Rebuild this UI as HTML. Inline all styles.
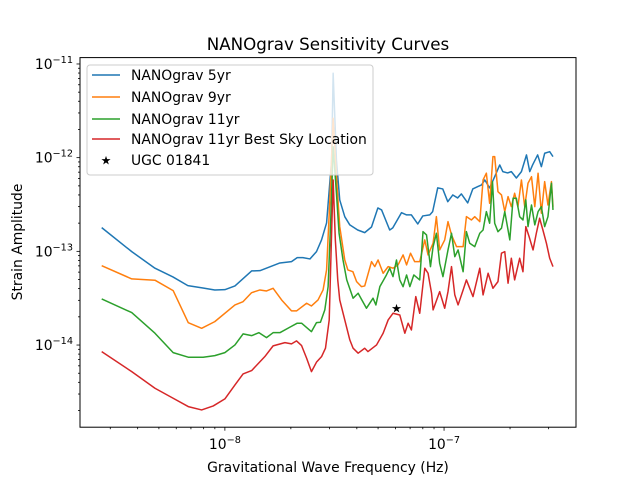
<!DOCTYPE html>
<html><head><meta charset="utf-8"><style>
html,body{margin:0;padding:0;background:#fff;}
svg{display:block;font-family:"DejaVu Sans","Liberation Sans",sans-serif;}
</style></head><body>
<svg id="chart" width="640" height="480" viewBox="0 0 640 480" xmlns="http://www.w3.org/2000/svg">
<rect width="640" height="480" fill="#fff"/>
<defs><clipPath id="clip"><rect x="80" y="57.6" width="496" height="369.6"/></clipPath></defs>
<text x="328" y="50" font-size="16.7" text-anchor="middle">NANOgrav Sensitivity Curves</text>
<text x="328" y="472" font-size="13.9" text-anchor="middle">Gravitational Wave Frequency (Hz)</text>
<text x="0" y="0" font-size="13.9" text-anchor="middle" transform="translate(22,242) rotate(-90)">Strain Amplitude</text>
<g id="ticks"></g>
<g id="series" clip-path="url(#clip)"></g>
<rect x="80" y="57.6" width="496" height="369.6" fill="none" stroke="#000" stroke-width="1"/>
<g id="legend">
<rect x="87" y="65" width="286" height="110" rx="3" fill="#fff" fill-opacity="0.8" stroke="#ccc" stroke-width="1"/>
<line x1="92" y1="75" x2="120" y2="75" stroke="#1f77b4" stroke-width="1.5"/>
<text x="131" y="80" font-size="13.9">NANOgrav 5yr</text>
<line x1="92" y1="97" x2="120" y2="97" stroke="#ff7f0e" stroke-width="1.5"/>
<text x="131" y="102" font-size="13.9">NANOgrav 9yr</text>
<line x1="92" y1="119" x2="120" y2="119" stroke="#2ca02c" stroke-width="1.5"/>
<text x="131" y="124" font-size="13.9">NANOgrav 11yr</text>
<line x1="92" y1="139" x2="120" y2="139" stroke="#d62728" stroke-width="1.5"/>
<text x="131" y="144" font-size="13.9">NANOgrav 11yr Best Sky Location</text>
<text x="106" y="164.5" font-size="12" text-anchor="middle">★</text>
<text x="131" y="165" font-size="13.9">UGC 01841</text>
</g>
</svg>
<script>
// log10 frequency (Hz) and log10 strain amplitude
const f5 = [-8.562,-8.425,-8.319,-8.237,-8.169,-8.100,-8.046,-8.000,-7.954,-7.878,-7.840,-7.749,-7.696,-7.670,-7.644,-7.612,-7.582,-7.559,-7.536,-7.513,-7.506,-7.491,-7.476,-7.453,-7.430,-7.394,-7.362,-7.331,-7.302,-7.285,-7.248,-7.234,-7.194,-7.171,-7.149,-7.120,-7.097,-7.065,-7.052,-7.029,-7.006,-6.983,-6.960,-6.938,-6.921,-6.892,-6.869,-6.846,-6.829,-6.814,-6.792,-6.769,-6.746,-6.732,-6.710,-6.693,-6.670,-6.647,-6.624,-6.609,-6.596,-6.573,-6.556,-6.541,-6.518,-6.503];
const h5 = [-12.747,-13.003,-13.180,-13.273,-13.366,-13.391,-13.412,-13.409,-13.369,-13.209,-13.206,-13.124,-13.110,-13.067,-13.067,-13.081,-13.003,-12.878,-12.697,-12.025,-11.099,-12.025,-12.451,-12.630,-12.718,-12.772,-12.800,-12.740,-12.537,-12.558,-12.772,-12.750,-12.587,-12.611,-12.611,-12.708,-12.622,-12.611,-12.576,-12.323,-12.334,-12.470,-12.398,-12.430,-12.387,-12.483,-12.334,-12.309,-12.291,-12.238,-12.323,-12.203,-12.078,-12.149,-12.163,-12.149,-12.217,-12.149,-11.971,-12.149,-12.078,-11.971,-12.096,-11.953,-11.936,-11.989];
const f9 = [-8.562,-8.425,-8.319,-8.236,-8.167,-8.106,-8.046,-7.954,-7.917,-7.878,-7.840,-7.810,-7.780,-7.741,-7.696,-7.673,-7.627,-7.605,-7.575,-7.552,-7.536,-7.521,-7.506,-7.491,-7.476,-7.453,-7.439,-7.416,-7.399,-7.377,-7.362,-7.331,-7.316,-7.301,-7.278,-7.255,-7.233,-7.210,-7.187,-7.171,-7.153,-7.134,-7.111,-7.088,-7.073,-7.050,-7.035,-7.020,-6.997,-6.982,-6.966,-6.943,-6.913,-6.898,-6.875,-6.860,-6.837,-6.822,-6.807,-6.792,-6.777,-6.769,-6.754,-6.738,-6.723,-6.708,-6.693,-6.678,-6.663,-6.647,-6.632,-6.617,-6.601,-6.586,-6.571,-6.556,-6.541,-6.526,-6.510,-6.503];
const h9 = [-13.153,-13.294,-13.308,-13.419,-13.761,-13.821,-13.750,-13.572,-13.537,-13.441,-13.412,-13.423,-13.394,-13.519,-13.636,-13.636,-13.554,-13.583,-13.519,-13.412,-13.198,-12.451,-11.579,-12.203,-12.736,-13.092,-13.198,-13.217,-13.323,-13.377,-13.369,-13.110,-13.163,-13.092,-13.234,-13.163,-13.180,-13.145,-13.038,-13.145,-13.020,-13.110,-13.110,-12.878,-13.038,-12.913,-12.630,-12.985,-12.878,-12.683,-12.825,-12.950,-12.950,-12.630,-12.665,-12.630,-12.683,-12.238,-12.166,-12.487,-11.989,-11.989,-12.363,-12.398,-12.576,-12.416,-12.523,-12.380,-12.523,-12.238,-12.523,-12.273,-12.203,-12.523,-12.166,-12.593,-12.256,-12.505,-12.256,-12.523];
const f11 = [-8.562,-8.425,-8.319,-8.236,-8.167,-8.099,-8.046,-8.000,-7.954,-7.917,-7.878,-7.845,-7.810,-7.780,-7.749,-7.704,-7.670,-7.650,-7.605,-7.582,-7.564,-7.544,-7.529,-7.517,-7.506,-7.491,-7.479,-7.461,-7.444,-7.425,-7.415,-7.392,-7.375,-7.354,-7.324,-7.311,-7.293,-7.263,-7.248,-7.233,-7.217,-7.202,-7.187,-7.171,-7.156,-7.138,-7.111,-7.096,-7.080,-7.062,-7.050,-7.035,-7.020,-7.005,-6.982,-6.966,-6.951,-6.936,-6.913,-6.898,-6.883,-6.860,-6.837,-6.822,-6.807,-6.792,-6.779,-6.769,-6.754,-6.738,-6.723,-6.700,-6.685,-6.670,-6.655,-6.640,-6.627,-6.617,-6.601,-6.586,-6.571,-6.556,-6.541,-6.526,-6.510,-6.503];
const h11 = [-13.508,-13.654,-13.874,-14.081,-14.130,-14.130,-14.113,-14.081,-13.999,-13.881,-13.900,-13.868,-13.921,-13.868,-13.868,-13.810,-13.767,-13.767,-13.857,-13.761,-13.757,-13.625,-13.377,-12.665,-11.883,-12.380,-12.807,-13.092,-13.305,-13.433,-13.500,-13.447,-13.519,-13.607,-13.500,-13.572,-13.377,-13.252,-13.180,-13.270,-13.092,-13.305,-13.377,-13.252,-13.377,-13.252,-13.305,-12.790,-12.825,-13.163,-12.950,-12.807,-13.127,-13.270,-12.985,-12.807,-13.057,-12.985,-13.217,-12.790,-12.913,-12.950,-12.807,-12.772,-12.576,-12.700,-12.256,-12.700,-12.790,-12.753,-12.576,-12.878,-12.433,-12.433,-12.630,-12.665,-12.451,-12.736,-12.505,-12.718,-12.576,-12.523,-12.736,-12.630,-12.273,-12.558];
const fBest = [-8.562,-8.425,-8.319,-8.236,-8.167,-8.106,-8.053,-8.000,-7.954,-7.917,-7.878,-7.818,-7.780,-7.726,-7.696,-7.673,-7.650,-7.627,-7.605,-7.582,-7.559,-7.541,-7.524,-7.514,-7.506,-7.496,-7.485,-7.476,-7.453,-7.430,-7.415,-7.392,-7.362,-7.347,-7.308,-7.278,-7.255,-7.233,-7.202,-7.179,-7.164,-7.149,-7.129,-7.111,-7.088,-7.073,-7.057,-7.050,-7.020,-6.997,-6.982,-6.966,-6.951,-6.936,-6.913,-6.898,-6.868,-6.837,-6.822,-6.799,-6.777,-6.754,-6.738,-6.723,-6.708,-6.693,-6.678,-6.655,-6.640,-6.627,-6.612,-6.594,-6.579,-6.564,-6.549,-6.533,-6.518,-6.503];
const hBest = [-14.070,-14.284,-14.461,-14.568,-14.657,-14.693,-14.650,-14.575,-14.426,-14.308,-14.273,-14.124,-14.009,-13.974,-13.988,-13.956,-14.006,-14.141,-14.284,-14.183,-14.124,-14.034,-13.732,-12.878,-12.238,-12.878,-13.305,-13.519,-13.732,-13.945,-14.034,-14.087,-14.034,-14.070,-13.999,-13.874,-13.732,-13.661,-13.679,-13.874,-13.767,-13.839,-13.483,-13.661,-13.180,-13.234,-13.447,-13.625,-13.430,-13.607,-13.430,-13.163,-13.465,-13.572,-13.412,-13.305,-13.483,-13.180,-13.465,-13.234,-13.394,-13.323,-13.020,-13.003,-13.340,-13.074,-13.305,-13.074,-13.217,-12.736,-12.843,-12.985,-12.807,-12.647,-12.772,-12.913,-13.074,-13.163];
const starF = [-7.217];
const starH = [-13.607];
const xTickExps = [-8, -7];
const yTickExps = [-11, -12, -13, -14];

const XMIN=-8.661, XMAX=-6.398, YMIN=-14.877, YMAX=-10.932;
function xs(v){return 80 + (v - XMIN) / (XMAX - XMIN) * 496;}
function ys(v){return 427.2 - (v - YMIN) / (YMAX - YMIN) * 369.6;}
const NS='http://www.w3.org/2000/svg';
const series=document.getElementById('series');
const ticks=document.getElementById('ticks');

function drawLine(fx, hy, color, name){
  const p=document.createElementNS(NS,'polyline');
  p.setAttribute('points', fx.map((f,i)=>xs(f).toFixed(2)+','+ys(hy[i]).toFixed(2)).join(' '));
  p.setAttribute('fill','none');p.setAttribute('stroke',color);
  p.setAttribute('stroke-width','1.5');p.setAttribute('stroke-linejoin','round');
  
  
  series.appendChild(p);
}
drawLine(f5,h5,'#1f77b4','line-5yr');
drawLine(f9,h9,'#ff7f0e','line-9yr');
drawLine(f11,h11,'#2ca02c','line-11yr');
drawLine(fBest,hBest,'#d62728','line-11yr-best-sky');
starF.forEach((f,i)=>{
  const t=document.createElementNS(NS,'text');
  t.setAttribute('x',xs(f));t.setAttribute('y',ys(starH[i])+4.5);
  t.setAttribute('font-size','12');t.setAttribute('text-anchor','middle');
  t.textContent='★';
  
  
  series.appendChild(t);
});

function tickLine(x1,y1,x2,y2){
  const l=document.createElementNS(NS,'line');
  l.setAttribute('x1',x1);l.setAttribute('y1',y1);l.setAttribute('x2',x2);l.setAttribute('y2',y2);
  l.setAttribute('stroke','#000');l.setAttribute('stroke-width','0.8');
  
  
  ticks.appendChild(l);
}
function powLabel(x,y,exp,anchor,name){
  const t=document.createElementNS(NS,'text');
  t.setAttribute('x',x);t.setAttribute('y',y);t.setAttribute('font-size','13.9');
  t.setAttribute('text-anchor',anchor);
  t.innerHTML='10<tspan font-size="9.7" dy="-6">\u2212'+Math.abs(exp)+'</tspan>';
  
  
  ticks.appendChild(t);
}
for(let e=-9;e<=-7;e++){for(let k=2;k<=9;k++){const v=e+Math.log10(k);if(v>XMIN&&v<XMAX){const x=xs(v);tickLine(x,427.2,x,429.2);}}}
xTickExps.forEach(e=>{const x=xs(e);tickLine(x,427.2,x,430.7);powLabel(x,449,e,'middle','x-tick-label');});
for(let e=-15;e<=-11;e++){for(let k=2;k<=9;k++){const v=e+Math.log10(k);if(v>YMIN&&v<YMAX){const y=ys(v);tickLine(78,y,80,y);}}}
yTickExps.forEach(e=>{const y=ys(e);tickLine(76.5,y,80,y);powLabel(73,y+5,e,'end','y-tick-label');});
</script>
</body></html>
